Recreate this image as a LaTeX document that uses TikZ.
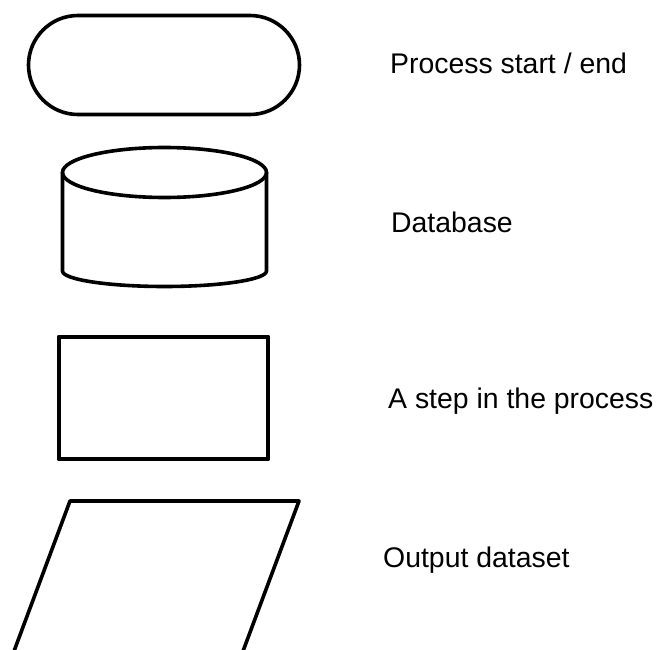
\documentclass[tikz,border=0pt]{standalone}
\usepackage{fontspec}
\setmainfont{Liberation Sans}
\begin{document}
\begin{tikzpicture}[x=1pt,y=-1pt,
  shapeline/.style={draw=black,line width=3.6pt,line join=round},
  label/.style={anchor=base west,inner sep=0pt,font=\fontsize{28.4}{33}\selectfont}]
\useasboundingbox (0,0) rectangle (659,650);
\clip (0,0) rectangle (659,650);
% Process start / end
\draw[shapeline,rounded corners=49.5pt] (28.5,15.5) rectangle (299.5,114.5);
\node[label] (lstart) at (390,74) {Process start / end};
% Database
\draw[shapeline] (164.5,172.5) ellipse [x radius=102, y radius=25];
\draw[shapeline] (62.5,172.5) -- (62.5,271) arc[start angle=180,end angle=0,x radius=102,y radius=15.5] -- (266.5,172.5);
\node[label] (ldb) at (391,232) {Database};
% Step
\draw[shapeline,line width=4.2pt] (58.75,336.75) rectangle (268.25,459.25);
\node[label] (lstep) at (388,408) {A step in the process};
% Output dataset
\draw[shapeline] (10.7,660) -- (70,501) -- (299,501) -- (239.7,660);
\node[label] (lout) at (383,567) {Output dataset};
\end{tikzpicture}
\end{document}
